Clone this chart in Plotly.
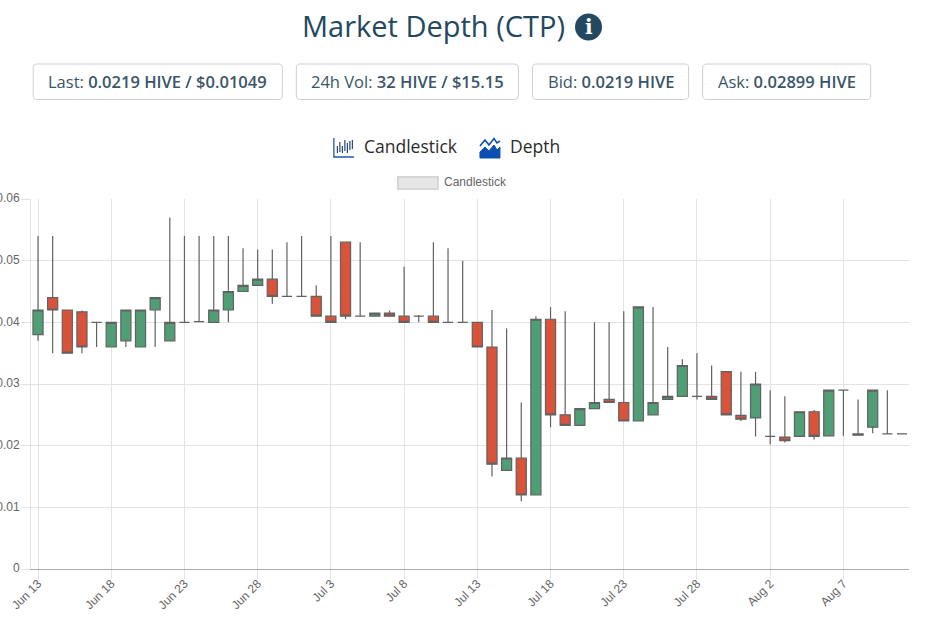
import plotly.graph_objects as go

W, H = 952, 636
L, R, T, B = 31.3, 908.8, 199.0, 569.0

dates = (
    [f"2023-06-{d:02d}" for d in range(13, 31)]
    + [f"2023-07-{d:02d}" for d in range(1, 32)]
    + [f"2023-08-{d:02d}" for d in range(1, 12)]
)
opens = [.038,.044,.042,.0417,.04,.036,.037,.036,.042,.037,.04,.0401,.04,.042,.045,.046,.047,.0442,
         .0442,.0442,.041,.053,.041,.041,.0415,.041,.041,.041,.04,.04,.04,.036,.016,.018,.012,.0405,
         .025,.0233,.026,.0275,.027,.024,.025,.0275,.028,.028,.028,.032,.0249,
         .0245,.0215,.0214,.0215,.0255,.0216,.029,.0219,.023,.0219,.0219]
closes = [.042,.042,.035,.036,.04,.04,.042,.042,.044,.04,.04,.0401,.042,.045,.046,.047,.0442,.0442,
          .0442,.041,.04,.041,.041,.0415,.041,.04,.041,.04,.04,.04,.036,.017,.018,.012,.0405,.025,
          .0233,.026,.027,.027,.024,.0425,.027,.028,.033,.028,.0275,.025,.0243,
          .03,.0215,.0208,.0255,.0215,.029,.029,.0217,.029,.0219,.0219]
highs = [.054,.054,.042,.0419,.04,.04,.042,.042,.044,.057,.054,.054,.054,.054,.052,.0518,.0518,.053,
         .054,.046,.054,.053,.053,.0415,.0419,.049,.0412,.053,.052,.05,.04,.042,.039,.027,.041,.0425,
         .0418,.026,.04,.04,.0418,.0425,.0425,.036,.034,.035,.033,.032,.032,
         .032,.029,.028,.0255,.0258,.029,.029,.0275,.029,.029,.0219]
lows = [.037,.035,.035,.035,.036,.036,.036,.036,.036,.037,.04,.0401,.04,.04,.045,.046,.043,.0442,
        .0442,.041,.04,.0405,.041,.041,.041,.04,.04,.04,.04,.04,.036,.015,.016,.011,.012,.023,
        .0233,.0233,.026,.027,.024,.024,.025,.0275,.028,.0275,.0275,.025,.024,
        .0215,.0202,.0205,.0215,.021,.0216,.0216,.0217,.022,.0219,.0219]

tick_dates = ["2023-06-13","2023-06-18","2023-06-23","2023-06-28","2023-07-03","2023-07-08",
              "2023-07-13","2023-07-18","2023-07-23","2023-07-28","2023-08-02","2023-08-07"]
tick_labels = ["Jun 13","Jun 18","Jun 23","Jun 28","Jul 3","Jul 8","Jul 13","Jul 18",
               "Jul 23","Jul 28","Aug 2","Aug 7"]
y_ticks = [0, .01, .02, .03, .04, .05, .06]
y_labels = ["0", "0.01", "0.02", "0.03", "0.04", "0.05", "0.06"]

title_text = "Market Depth (CTP)"
stats = [("Last:", "0.0219 HIVE / $0.01049"), ("24h Vol:", "32 HIVE / $15.15"),
         ("Bid:", "0.0219 HIVE"), ("Ask:", "0.02899 HIVE")]

GREEN, RED, EDGE = "#4f9e75", "#d9523a", "#626262"
GRID, NAVY = "#e3e3e3", "#24485f"


def px(x):
    return (x - L) / (R - L)


def py(y):
    return (B - y) / (B - T)


fig = go.Figure(go.Candlestick(
    x=dates, open=opens, high=highs, low=lows, close=closes, whiskerwidth=0,
    increasing=dict(fillcolor=GREEN, line=dict(color=EDGE, width=1.2)),
    decreasing=dict(fillcolor=RED, line=dict(color=EDGE, width=1.2)),
    showlegend=False,
))

shapes, notes = [], []


def rect(x0, y0, x1, y1, fill="rgba(0,0,0,0)", line="#cfcfcf", width=1, r=0):
    c = lambda a, b: f"{px(a):.5f},{py(b):.5f}"
    d = (f"M{c(x0 + r, y0)}L{c(x1 - r, y0)}Q{c(x1, y0)} {c(x1, y0 + r)}"
         f"L{c(x1, y1 - r)}Q{c(x1, y1)} {c(x1 - r, y1)}"
         f"L{c(x0 + r, y1)}Q{c(x0, y1)} {c(x0, y1 - r)}"
         f"L{c(x0, y0 + r)}Q{c(x0, y0)} {c(x0 + r, y0)}Z")
    shapes.append(dict(type="path", xref="paper", yref="paper", path=d, fillcolor=fill,
                       line=dict(color=line, width=width), layer="above"))


def path(points, fill=None, line="#1f55a5", width=1):
    d = "M" + "L".join(f"{px(a):.5f},{py(b):.5f}" for a, b in points)
    if fill:
        d += "Z"
    shapes.append(dict(type="path", xref="paper", yref="paper", path=d,
                       fillcolor=fill or "rgba(0,0,0,0)", line=dict(color=line, width=width),
                       layer="above"))


def text(x, y, s, size, color, family="Open Sans", anchor="center"):
    notes.append(dict(xref="paper", yref="paper", x=px(x), y=py(y), text=s, showarrow=False,
                      xanchor=anchor, yanchor="middle", borderpad=0,
                      font=dict(size=size, color=color, family=family)))


text(434, 26, title_text, 29, NAVY)
shapes.append(dict(type="circle", xref="paper", yref="paper", x0=px(575), x1=px(602),
                   y0=py(40.5), y1=py(13.5), fillcolor=NAVY, line=dict(width=0), layer="above"))
text(588.5, 27, "<b>i</b>", 20, "#ffffff", "DejaVu Serif")

boxes = [(33.5, 282.5), (296.5, 518.5), (532.5, 688.5), (702.5, 870.5)]
for (a, b), (lab, val) in zip(boxes, stats):
    rect(a, 64, b, 99.5, r=4)
    text((a + b) / 2, 81.6, f"{lab} <span style='font-weight:600'>{val}</span>", 16.5, "#3a5568")

path([(334, 138), (334, 157), (354, 157)], line="#1f55a5", width=1.3)
for x_, a_, b_ in [(337.5, 146, 153), (340, 142, 152), (342.5, 146, 153), (345, 140, 151),
                   (347.5, 143, 153), (350, 141, 150), (352.5, 140, 149)]:
    path([(x_, a_), (x_, b_)], line="#2a4480", width=1.2)
text(363.5, 145.5, "Candlestick", 17.5, "#2b2b2b", anchor="left")
path([(480, 158), (480, 152), (485, 147), (489, 151), (494, 145), (497, 150), (500, 147),
      (500, 158)], fill="#0b4fb3", line="#0b4fb3")
path([(480, 146), (485, 140), (489, 145), (494, 138.5), (497, 143), (500, 141)],
     line="#0b4fb3", width=1.6)
text(509.5, 145.5, "Depth", 17.5, "#2b2b2b", anchor="left")

rect(398, 177, 438, 189, fill="#e6e6e6", line="#d6d6d6", width=2)
text(443.5, 182, "Candlestick", 12, "#666666", "Liberation Sans", anchor="left")

fig.update_layout(
    width=W, height=H, paper_bgcolor="#ffffff", plot_bgcolor="#ffffff",
    margin=dict(l=L, r=W - R, t=T, b=H - B, autoexpand=False),
    boxgap=0.31, boxgroupgap=0, showlegend=False, shapes=shapes, annotations=notes, dragmode=False,
    font=dict(family="Liberation Sans", size=12, color="#666666"),
)
fig.update_xaxes(
    type="date", range=["2023-06-12 12:30", "2023-08-11 11:30"], rangeslider_visible=False,
    tickmode="array", tickvals=tick_dates, ticktext=tick_labels, tickangle=-45,
    showgrid=True, gridcolor=GRID, gridwidth=1, ticks="outside", ticklen=9, tickcolor=GRID,
    showline=True, linecolor="#ababab", linewidth=1,
    tickfont=dict(size=12, color="#666666"), ticklabelstandoff=-7, ticklabelshift=0,
)
fig.update_yaxes(
    range=[0, .06], tickmode="array", tickvals=y_ticks, ticktext=y_labels,
    showgrid=True, gridcolor=GRID, gridwidth=1, zeroline=False, ticks="outside", ticklen=9,
    tickcolor=GRID, showline=True, linecolor=GRID, linewidth=1,
    tickfont=dict(size=12, color="#666666"), ticklabelshift=-1, ticklabelstandoff=-1,
)

fig.write_html("out.html", post_script="document.body.style.margin='0';",
               config=dict(displayModeBar=False))
